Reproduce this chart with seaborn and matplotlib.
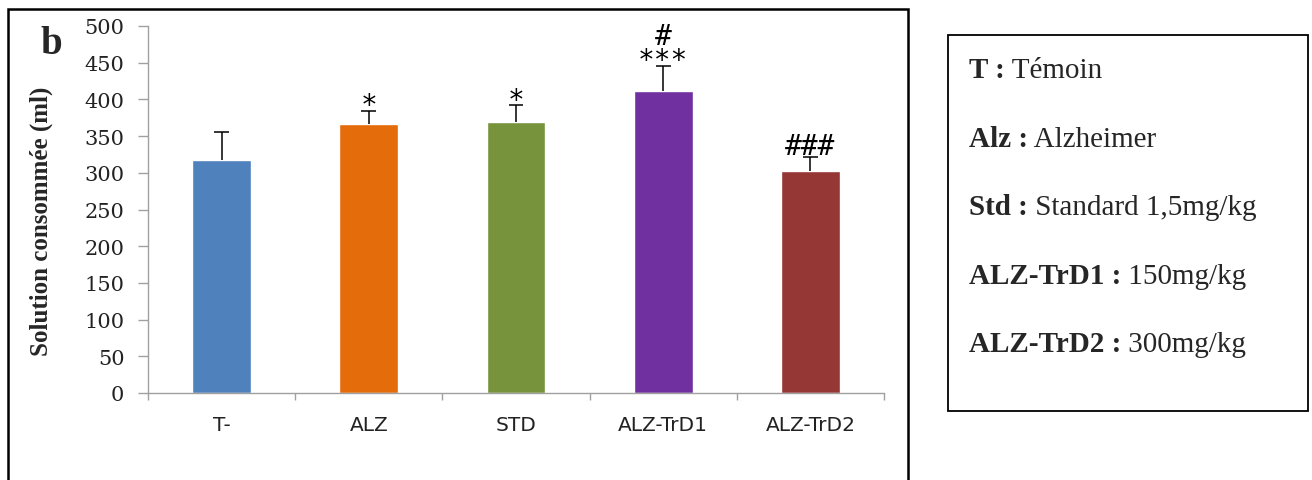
import pandas as pd
from matplotlib import pyplot as plt
from matplotlib.patches import Rectangle
import seaborn as sns
import numpy as np

# data
groups = ['T-', 'ALZ', 'STD', 'ALZ-TrD1', 'ALZ-TrD2']
means = [318, 366, 369, 411, 302]
sem = [37, 18, 23, 35, 19]
marks = ['', '*', '*', '#\n***', '###']
colors = ['#4F81BD', '#E46C0A', '#77933C', '#7030A0', '#953735']

legend_bold = ['T :', 'Alz :', 'Std :', 'ALZ-TrD1 :', 'ALZ-TrD2 :']
legend_text = [' Témoin', ' Alzheimer', ' Standard 1,5mg/kg', ' 150mg/kg', ' 300mg/kg']

sns.set_theme(style='white')
plt.rcParams['font.family'] = ['DejaVu Sans']

df = pd.DataFrame({'group': groups, 'value': means})

fig = plt.figure(figsize=(13.12, 4.81), dpi=100)
ax = fig.add_axes([148/1312, 87/481, 736/1312, 367/481])

sns.barplot(data=df, x='group', y='value', hue='group', palette=colors,
            width=0.4, saturation=1, legend=False, ax=ax)
# upper error bars only
xs = np.arange(len(groups))
tops = np.array(means) + np.array(sem)
ax.vlines(xs, means, tops, color='black', lw=1.1)
ax.hlines(tops, xs - 0.05, xs + 0.05, color='black', lw=1.1)

# significance marks
for i, (top, m) in enumerate(zip(tops, marks)):
    if not m:
        continue
    off = -6 if m.endswith('*') else -2
    ax.annotate(m, (i, top), xytext=(0, off), textcoords='offset points',
                ha='center', va='bottom', fontsize=20, linespacing=0.8,
                family='DejaVu Sans Mono', color='black')

ax.set_ylim(0, 500)
ax.set_xlim(-0.5, len(groups) - 0.5)
ax.set_yticks(np.arange(0, 501, 50))
ax.tick_params(axis='y', labelsize=15, direction='out', length=7, width=1,
               color='#A0A0A0', left=True, pad=10, labelfontfamily='DejaVu Serif',
               labelcolor='#222222')
ax.set_xticks(xs)
ax.set_xticklabels(groups, fontsize=14.5)
ax.tick_params(axis='x', length=0, pad=16, labelcolor='#222222')
ax.set_xticks(np.arange(-0.5, len(groups)), minor=True)
ax.tick_params(axis='x', which='minor', direction='out', length=5, width=1,
               color='#A0A0A0', bottom=True)
ax.set_xlabel('')
ax.set_ylabel('Solution consommée (ml)', fontsize=18, fontweight='bold',
              family='Liberation Serif')
ax.yaxis.set_label_coords(-95/736, 0.47)
for side in ['top', 'right']:
    ax.spines[side].set_visible(False)
for side in ['left', 'bottom']:
    ax.spines[side].set_color('#A0A0A0')
    ax.spines[side].set_linewidth(1)

fig.text(40/1312, 1 - 44/481, 'b', fontsize=28, fontweight='bold',
         family='Liberation Serif', ha='left', va='center')

# frames
fig.add_artist(Rectangle((8/1312, -0.1), 900/1312, 1.1 - 10/481,
                         transform=fig.transFigure, fill=False, lw=1.8,
                         edgecolor='black'))
fig.add_artist(Rectangle((948/1312, 1 - 412/481), 360/1312, 376/481,
                         transform=fig.transFigure, fill=False, lw=1.3,
                         edgecolor='black'))

# legend box text
fig.canvas.draw()
r = fig.canvas.get_renderer()
baselines = [78, 147, 215, 284, 352]
for b, t, y in zip(legend_bold, legend_text, baselines):
    tb = fig.text(969/1312, 1 - y/481, b, fontsize=21, fontweight='bold',
                  family='Liberation Serif', ha='left', va='baseline')
    w = tb.get_window_extent(renderer=r).width
    fig.text((969 + w)/1312, 1 - y/481, t, fontsize=21,
             family='Liberation Serif', ha='left', va='baseline')

fig.savefig('out.png', dpi=100)
